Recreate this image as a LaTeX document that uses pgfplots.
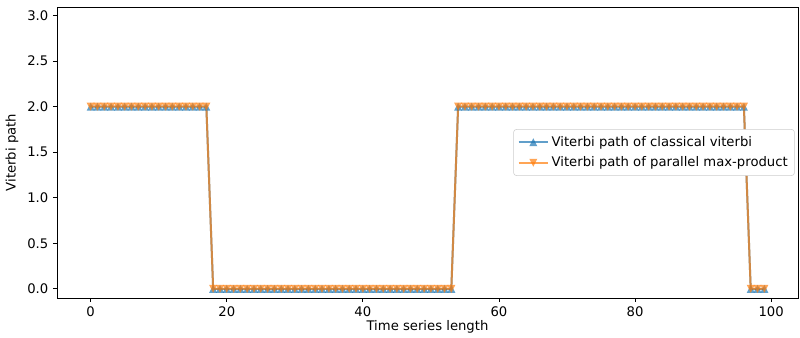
\documentclass[border=0pt]{standalone}
\usepackage{fontspec}
\setmainfont{DejaVu Sans}
\usepackage{pgfplots}
\pgfplotsset{compat=1.18}
\definecolor{mplblue}{HTML}{1F77B4}
\definecolor{mplorange}{HTML}{FF7F0E}
\pgfdeclareplotmark{mtriup}{%
  \pgfpathmoveto{\pgfpoint{0pt}{\pgfplotmarksize}}%
  \pgfpathlineto{\pgfpoint{-\pgfplotmarksize}{-\pgfplotmarksize}}%
  \pgfpathlineto{\pgfpoint{\pgfplotmarksize}{-\pgfplotmarksize}}%
  \pgfpathclose\pgfusepathqfill}
\pgfdeclareplotmark{mtridown}{%
  \pgfpathmoveto{\pgfpoint{0pt}{-\pgfplotmarksize}}%
  \pgfpathlineto{\pgfpoint{-\pgfplotmarksize}{\pgfplotmarksize}}%
  \pgfpathlineto{\pgfpoint{\pgfplotmarksize}{\pgfplotmarksize}}%
  \pgfpathclose\pgfusepathqfill}
\begin{document}
\begin{tikzpicture}[font=\fontsize{9.9}{11.5}\selectfont]
\path[use as bounding box] (-42.75pt,-30pt) rectangle (557.25pt,223.5pt);
\begin{axis}[
  at={(0,0)}, anchor=south west,
  scale only axis, width=555.75pt, height=218.25pt,
  xmin=-4.95, xmax=103.95, ymin=-0.1, ymax=3.095,
  xtick={0,20,40,60,80,100},
  ytick={0,0.5,1,1.5,2,2.5,3},
  tick pos=left, tick align=outside,
  major tick length=3pt,
  every tick/.style={black, line width=0.6pt},
  axis line style={black, line width=0.6pt},
  /pgf/number format/assume math mode=true,
  yticklabel style={/pgf/number format/fixed, /pgf/number format/fixed zerofill, /pgf/number format/precision=1},
  xlabel={Time series length},
  ylabel={Viterbi path},
  xlabel style={at={(axis description cs:0.5,-0.110)}, anchor=base},
  ylabel style={at={(axis description cs:-0.0607,0.5)}, anchor=center},
  legend cell align=left,
  legend image code/.code={\draw[mark repeat=2,mark phase=2] plot coordinates {(0pt,0pt) (11pt,0pt) (22pt,0pt)};},
  legend style={at={(1,0.5)}, anchor=east, xshift=-2.5pt, draw=black!20, rounded corners=2pt, row sep=2.5pt, inner sep=3pt, font=\fontsize{9.9}{11.5}\selectfont},
]
\addplot[mplblue, opacity=0.7, line width=1.5pt, mark=mtriup, mark size=3pt, mark options={solid}] coordinates {
(0,2) (1,2) (2,2) (3,2) (4,2) (5,2) (6,2) (7,2) (8,2) (9,2) (10,2) (11,2) (12,2) (13,2) (14,2) (15,2) (16,2) (17,2)
(18,0) (19,0) (20,0) (21,0) (22,0) (23,0) (24,0) (25,0) (26,0) (27,0) (28,0) (29,0) (30,0) (31,0) (32,0) (33,0) (34,0) (35,0)
(36,0) (37,0) (38,0) (39,0) (40,0) (41,0) (42,0) (43,0) (44,0) (45,0) (46,0) (47,0) (48,0) (49,0) (50,0) (51,0) (52,0) (53,0)
(54,2) (55,2) (56,2) (57,2) (58,2) (59,2) (60,2) (61,2) (62,2) (63,2) (64,2) (65,2) (66,2) (67,2) (68,2) (69,2) (70,2) (71,2)
(72,2) (73,2) (74,2) (75,2) (76,2) (77,2) (78,2) (79,2) (80,2) (81,2) (82,2) (83,2) (84,2) (85,2) (86,2) (87,2) (88,2) (89,2)
(90,2) (91,2) (92,2) (93,2) (94,2) (95,2) (96,2)
(97,0) (98,0) (99,0)
};
\addlegendentry{Viterbi path of classical viterbi}
\addplot[mplorange, opacity=0.7, line width=1.5pt, mark=mtridown, mark size=3pt, mark options={solid}] coordinates {
(0,2) (1,2) (2,2) (3,2) (4,2) (5,2) (6,2) (7,2) (8,2) (9,2) (10,2) (11,2) (12,2) (13,2) (14,2) (15,2) (16,2) (17,2)
(18,0) (19,0) (20,0) (21,0) (22,0) (23,0) (24,0) (25,0) (26,0) (27,0) (28,0) (29,0) (30,0) (31,0) (32,0) (33,0) (34,0) (35,0)
(36,0) (37,0) (38,0) (39,0) (40,0) (41,0) (42,0) (43,0) (44,0) (45,0) (46,0) (47,0) (48,0) (49,0) (50,0) (51,0) (52,0) (53,0)
(54,2) (55,2) (56,2) (57,2) (58,2) (59,2) (60,2) (61,2) (62,2) (63,2) (64,2) (65,2) (66,2) (67,2) (68,2) (69,2) (70,2) (71,2)
(72,2) (73,2) (74,2) (75,2) (76,2) (77,2) (78,2) (79,2) (80,2) (81,2) (82,2) (83,2) (84,2) (85,2) (86,2) (87,2) (88,2) (89,2)
(90,2) (91,2) (92,2) (93,2) (94,2) (95,2) (96,2)
(97,0) (98,0) (99,0)
};
\addlegendentry{Viterbi path of parallel max-product}
\end{axis}
\end{tikzpicture}
\end{document}
